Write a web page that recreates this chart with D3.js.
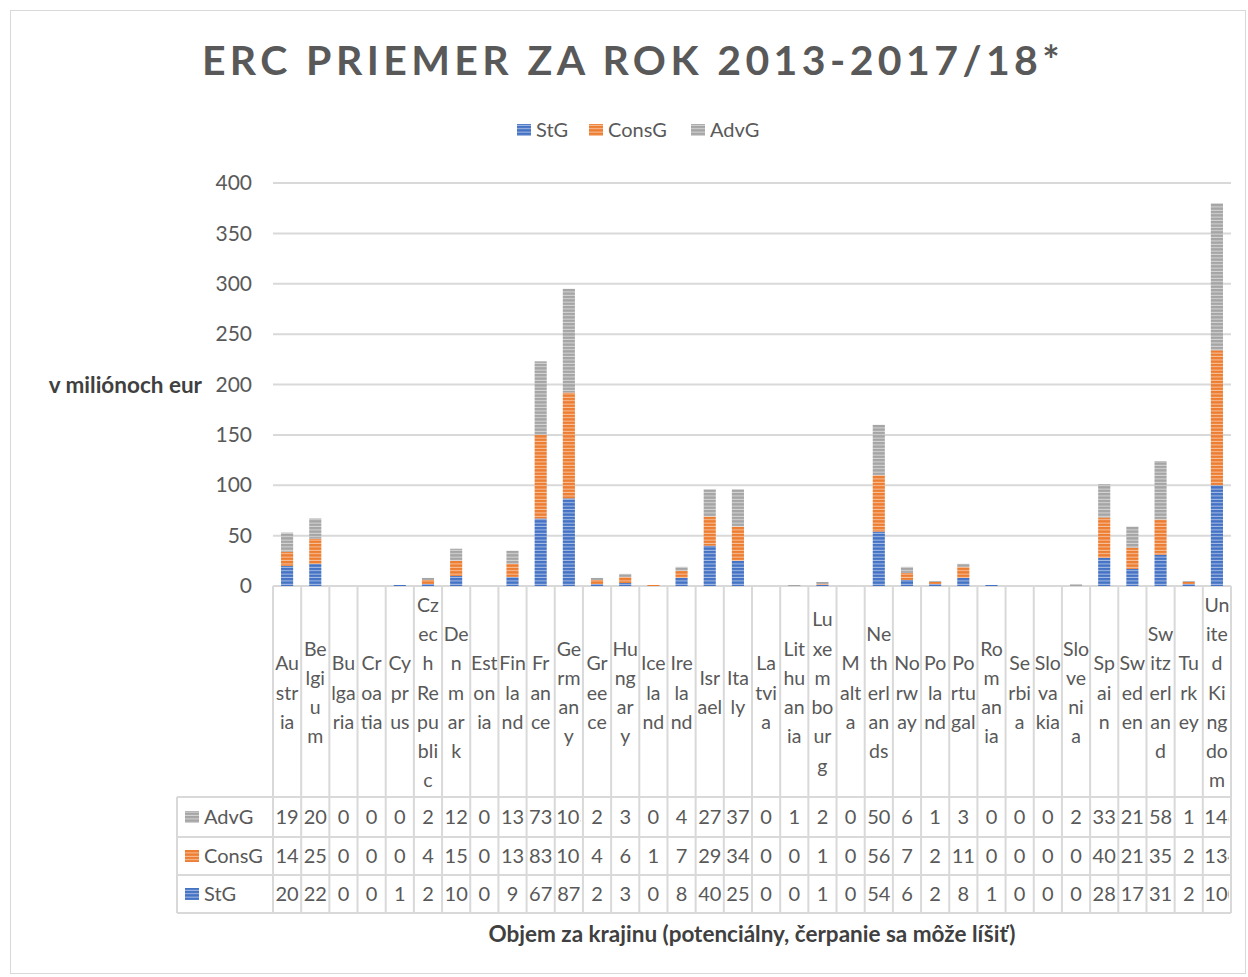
<!DOCTYPE html>
<html>
<head>
<meta charset="utf-8">
<style>
    body{ margin:0; background:#fff; }
    svg{ font-family: Lato, "Open Sans", sans-serif; }
</style>
</head>
<body>
<svg width="1248" height="977"></svg>
<script src="https://cdn.jsdelivr.net/npm/d3@7/dist/d3.min.js"></script>
<script>
    // ---- data ----
    var categories=["Austria","Belgium","Bulgaria","Croatia","Cyprus","Czech Republic","Denmark","Estonia","Finland","France",
        "Germany","Greece","Hungary","Iceland","Ireland","Israel","Italy","Latvia","Lithuania","Luxembourg",
        "Malta","Netherlands","Norway","Poland","Portugal","Romania","Serbia","Slovakia","Slovenia","Spain",
        "Sweden","Switzerland","Turkey","United Kingdom"];
    var stg  =[20,22,0,0,1,2,10,0,9,67, 87,2,3,0,8,40,25,0,0,1, 0,54,6,2,8,1,0,0,0,28, 17,31,2,100];
    var consg=[14,25,0,0,0,4,15,0,13,83, 105,4,6,1,7,29,34,0,0,1, 0,56,7,2,11,0,0,0,0,40, 21,35,2,134];
    var advg =[19,20,0,0,0,2,12,0,13,73, 103,2,3,0,4,27,37,0,1,2, 0,50,6,1,3,0,0,0,2,33, 21,58,1,146];
    var seriesNames=["StG","ConsG","AdvG"];
    var yTicks=[0,50,100,150,200,250,300,350,400];

    var colors={StG:"#4472C4",ConsG:"#ED7D31",AdvG:"#A5A5A5"};
    var textCol="#595959";

    var svg=d3.select("svg");
    var left=273,right=1231,y0=586,yTop=183;

    // chart border
    svg.append("rect").attr("x",10.5).attr("y",10.5).attr("width",1235).attr("height",963)
        .attr("fill","#fff").attr("stroke","#d9d9d9");

    // striped patterns
    var defs=svg.append("defs");
    seriesNames.forEach(function(s){
        var p=defs.append("pattern").attr("id","pat-"+s).attr("patternUnits","userSpaceOnUse")
            .attr("width",8).attr("height",3.4);
        p.append("rect").attr("width",8).attr("height",3.4).attr("fill",colors[s]);
        p.append("rect").attr("y",2.4).attr("width",8).attr("height",1).attr("fill","#fff").attr("opacity",0.55);
    });

    // title
    svg.append("text").attr("x",633).attr("y",75).attr("text-anchor","middle")
        .attr("font-size",41).attr("font-weight","bold").attr("letter-spacing",4.4)
        .attr("fill",textCol).text("ERC PRIEMER ZA ROK 2013-2017/18*");

    // legend
    var legX={StG:517,ConsG:589,AdvG:691};
    seriesNames.forEach(function(s){
        svg.append("rect").attr("x",legX[s]).attr("y",124).attr("width",14).attr("height",12)
            .attr("fill","url(#pat-"+s+")");
        svg.append("text").attr("x",legX[s]+19).attr("y",137).attr("font-size",20)
            .attr("fill",textCol).text(s);
    });

    // scales
    var x=d3.scaleBand().domain(categories).range([left,right]).paddingInner(0.57).paddingOuter(0.285);
    var xc=d3.scaleBand().domain(categories).range([left,right]);
    var y=d3.scaleLinear().domain([0,400]).range([y0,yTop]);

    // gridlines
    svg.append("g").selectAll("line").data(yTicks).enter().append("line")
        .attr("x1",left).attr("x2",right)
        .attr("y1",function(d){return y(d);}).attr("y2",function(d){return y(d);})
        .attr("stroke","#d9d9d9").attr("stroke-width",2);

    // y axis
    var yAxis=svg.append("g").attr("transform","translate("+left+",0)")
        .call(d3.axisLeft(y).tickValues(yTicks).tickSize(0).tickPadding(21));
    yAxis.select(".domain").remove();
    yAxis.selectAll("text").attr("font-size",21).attr("fill",textCol).attr("font-family","Lato, sans-serif");

    svg.append("text").attr("x",202).attr("y",393).attr("text-anchor","end")
        .attr("font-size",22.5).attr("font-weight","bold").attr("fill","#404040")
        .text("v miliónoch eur");

    // stacked bars
    var table=categories.map(function(c,i){ return {cat:c,StG:stg[i],ConsG:consg[i],AdvG:advg[i]}; });
    var stacked=d3.stack().keys(seriesNames)(table);
    svg.append("g").selectAll("g").data(stacked).enter().append("g")
        .attr("fill",function(d){ return "url(#pat-"+d.key+")"; })
        .selectAll("rect").data(function(d){return d;}).enter().append("rect")
        .attr("x",function(d){return x(d.data.cat);})
        .attr("width",x.bandwidth())
        .attr("y",function(d){return y(d[1]);})
        .attr("height",function(d){return y(d[0])-y(d[1]);});

    // ---- data table ----
    var hdrTop=588,hdrBot=797,rowH=[797,837,875,913],labelLeft=177;
    var grid=svg.append("g").attr("stroke","#d9d9d9").attr("stroke-width",2);
    categories.forEach(function(c){
        grid.append("line").attr("x1",xc(c)).attr("x2",xc(c)).attr("y1",y0).attr("y2",rowH[3]);
    });
    grid.append("line").attr("x1",right).attr("x2",right).attr("y1",y0).attr("y2",rowH[3]);
    grid.append("line").attr("x1",labelLeft).attr("x2",labelLeft).attr("y1",rowH[0]).attr("y2",rowH[3]);
    rowH.forEach(function(h){
        grid.append("line").attr("x1",labelLeft).attr("x2",right).attr("y1",h).attr("y2",h);
    });

    // wrapping of category names in the narrow cells, using Calibri advance widths (em)
    var cw={a:.479,b:.525,c:.423,d:.525,e:.498,g:.471,h:.525,i:.229,k:.455,l:.229,m:.799,n:.525,o:.527,p:.525,
        r:.349,s:.391,t:.335,u:.525,v:.452,w:.715,x:.433,y:.453,z:.395,
        A:.579,B:.544,C:.533,D:.615,E:.488,F:.459,G:.631,H:.623,I:.252,K:.520,L:.420,M:.855,N:.646,P:.517,
        R:.543,S:.459,T:.487,U:.642};
    function emw(s){ var t=0; for(var k=0;k<s.length;k++) t+=(cw[s[k]]||.5); return t; }
    function wrap(name,maxEm){
        var lines=[];
        name.split(" ").forEach(function(word){
            var cur="";
            for(var k=0;k<word.length;k++){
                var t=cur+word[k];
                if(cur.length && emw(t)>maxEm){ lines.push(cur); cur=word[k]; }
                else cur=t;
            }
            if(cur) lines.push(cur);
        });
        return lines;
    }
    var lh=29.3, hdrMid=(hdrTop+hdrBot)/2;
    categories.forEach(function(c){
        var lines=wrap(c,1.225);
        var cx=xc(c)+xc.bandwidth()/2;
        var t=svg.append("text").attr("font-size",19.5).attr("fill",textCol).attr("text-anchor","middle");
        lines.forEach(function(l,k){
            t.append("tspan").attr("x",cx)
                .attr("y",hdrMid+(k-(lines.length-1)/2)*lh+7).text(l);
        });
    });

    // value rows: numbers wider than the cell are cut, as in the spreadsheet
    var meas=svg.append("text").attr("font-size",20).attr("visibility","hidden");
    function w(s){ meas.text(s); return meas.node().getComputedTextLength(); }
    var rows=[{name:"AdvG",vals:advg},{name:"ConsG",vals:consg},{name:"StG",vals:stg}];
    var inner=xc.bandwidth()-2, clipN=0;
    rows.forEach(function(r,ri){
        var cy=(rowH[ri]+rowH[ri+1])/2+7;
        svg.append("rect").attr("x",185).attr("y",cy-13).attr("width",14).attr("height",12)
            .attr("fill","url(#pat-"+r.name+")");
        svg.append("text").attr("x",204).attr("y",cy).attr("font-size",20).attr("fill",textCol).text(r.name);
        r.vals.forEach(function(v,i){
            var s=String(v), c=categories[i];
            var t=svg.append("text").attr("y",cy).attr("font-size",20).attr("fill",textCol).text(s);
            if(w(s)<=inner){
                t.attr("x",xc(c)+xc.bandwidth()/2).attr("text-anchor","middle");
            } else {
                var n=s.length; while(n>1 && w(s.slice(0,n))>inner) n--;
                var id="clip"+(clipN++);
                defs.append("clipPath").attr("id",id).append("rect")
                    .attr("x",xc(c)+1).attr("y",rowH[ri]).attr("width",w(s.slice(0,n))+1.5)
                    .attr("height",rowH[ri+1]-rowH[ri]);
                t.attr("x",xc(c)+1.5).attr("text-anchor","start").attr("clip-path","url(#"+id+")");
            }
        });
    });

    svg.append("text").attr("x",752).attr("y",942).attr("text-anchor","middle")
        .attr("font-size",22.5).attr("font-weight","bold").attr("fill","#404040")
        .text("Objem za krajinu (potenciálny, čerpanie sa môže líšiť)");
</script>
</body>
</html>
